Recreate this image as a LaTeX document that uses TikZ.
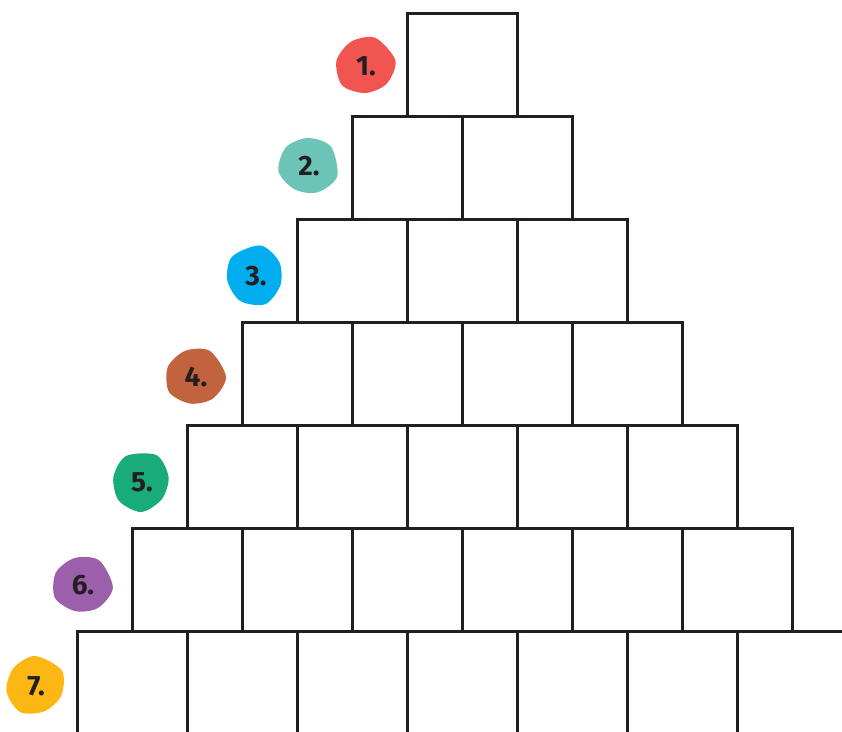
\documentclass[tikz,border=0pt]{standalone}
\usepackage{fontspec}
\setmainfont{Fira Sans}
\usetikzlibrary{positioning}

\definecolor{inkline}{HTML}{231F20}
\definecolor{bred}{HTML}{F05550}
\definecolor{bteal}{HTML}{6CC4B6}
\definecolor{bblue}{HTML}{00AEEF}
\definecolor{bbrown}{HTML}{C1633F}
\definecolor{bgreen}{HTML}{1AAB7A}
\definecolor{bpurple}{HTML}{9C5FAB}
\definecolor{byellow}{HTML}{FDB714}

\begin{document}
\begin{tikzpicture}[
  x=1pt, y=-1pt,
  cell/.style={draw=inkline, line width=3pt, minimum width=110pt, minimum height=103pt, inner sep=0pt, anchor=north west},
  num/.style={font=\fontsize{28}{28}\selectfont\bfseries, text=inkline, inner sep=0pt}
]
\useasboundingbox (0,0) rectangle (842,731);
\clip (0,0) rectangle (842,731);

% number badges
\foreach \n/\x/\y/\c/\r in {1/365/66/bred/10, 2/308/166/bteal/-20, 3/255/276/bblue/80,
  4/195/377/bbrown/0, 5/141/482/bgreen/60, 6/82/585/bpurple/-5, 7/35/686/byellow/30}{
  \fill[\c, shift={(\x,\y)}, rotate=\r] plot[smooth cycle] coordinates
    {(0:31) (50:28) (100:27) (150:30) (200:29) (250:28) (300:30)};
  \node[num] (b\n) at (\x+1,\y) {\n.};
}

% pyramid of cells
\foreach \row in {1,...,7}{
  \foreach \col in {1,...,\row}{
    \node[cell] (c\row\col) at ({406-55*(\row-1)+110*(\col-1)}, {12+103*(\row-1)}) {};
  }
}

\end{tikzpicture}
\end{document}
